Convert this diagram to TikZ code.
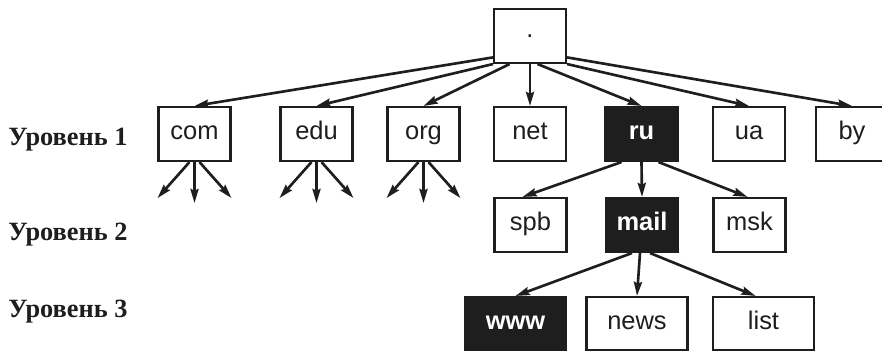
\documentclass[tikz,border=0pt]{standalone}
\usepackage{fontspec}
\setsansfont{Liberation Sans}
\newfontfamily\levelfont{Liberation Serif}
\usetikzlibrary{arrows.meta}
\definecolor{dnsink}{HTML}{1E1E1E}

\begin{document}
\begin{tikzpicture}[x=0.02cm, y=-0.02cm,
  cell/.style={draw=dnsink, line width=1.2pt, minimum width=1.44cm, minimum height=1.08cm,
    inner sep=0pt, text=dnsink, font=\sffamily\fontsize{14.5}{16}\selectfont},
  box/.style={cell, text height=8pt, text depth=1.5pt},
  wide/.style={box, minimum width=2.02cm, minimum height=1.06cm},
  dark/.style={fill=dnsink, text=white, font=\sffamily\bfseries\fontsize{14.5}{16}\selectfont},
  link/.style={draw=dnsink, line width=1.5pt, -{Stealth[length=8pt, width=4.6pt, inset=1pt]}},
  level/.style={anchor=base west, inner sep=0pt, text=dnsink,
    font=\levelfont\bfseries\fontsize{15}{18}\selectfont}]

  \fill[white] (0,0) rectangle (882,353);
  \useasboundingbox (0,0) rectangle (882,353);

  % root of the tree
  \node[cell] (root) at (530,36) {.};

  % level 1
  \foreach \name/\x in {com/194.5, edu/316.5, org/423.5, net/530, ua/749, by/852}
    \node[box] (\name) at (\x,134) {\name};
  \node[box, dark] (ru) at (641.5,134) {ru};

  \draw[link] (root.210) -- (com.north);
  \draw[link] (root.south west) -- (edu.north);
  \draw[link] (root.234) -- (org.north);
  \draw[link] (root.south) -- (net.north);
  \draw[link] (root.285) -- (ru.north);
  \draw[link] (root.south east) -- (ua.north);
  \draw[link] (root.330) -- (by.north);

  % subdomains not shown
  \foreach \name in {com, edu, org}{
    \coordinate (\name-a) at ([shift={(-37,36)}]\name.south);
    \coordinate (\name-b) at ([shift={(0,41)}]\name.south);
    \coordinate (\name-c) at ([shift={(37,36)}]\name.south);
    \draw[link] ([shift={(-5,0)}]\name.south) -- (\name-a);
    \draw[link] (\name.south) -- (\name-b);
    \draw[link] ([shift={(5,0)}]\name.south) -- (\name-c);
  }

  % level 2
  \node[box] (spb) at (530.5,225) {spb};
  \node[box, dark] (mail) at (642,225) {mail};
  \node[box] (msk) at (749.5,225) {msk};

  \draw[link] ([shift={(-20,0)}]ru.south) -- ([shift={(-8,0)}]spb.north);
  \draw[link] (ru.south) -- (mail.north);
  \draw[link] ([shift={(17,0)}]ru.south) -- ([shift={(-2,0)}]msk.north);

  % level 3
  \node[wide, dark] (www) at (515.5,323.5) {www};
  \node[wide] (news) at (637,323.5) {news};
  \node[wide] (list) at (763.5,323.5) {list};

  \draw[link] ([shift={(-10,0)}]mail.south) -- (www.north);
  \draw[link] ([shift={(-2,0)}]mail.south) -- (news.north);
  \draw[link] ([shift={(8,0)}]mail.south) -- ([shift={(-8,0)}]list.north);

  % level captions
  \node[level] (lev1) at (8,145) {Уровень 1};
  \node[level] (lev2) at (8,240) {Уровень 2};
  \node[level] (lev3) at (8,317) {Уровень 3};
\end{tikzpicture}
\end{document}
